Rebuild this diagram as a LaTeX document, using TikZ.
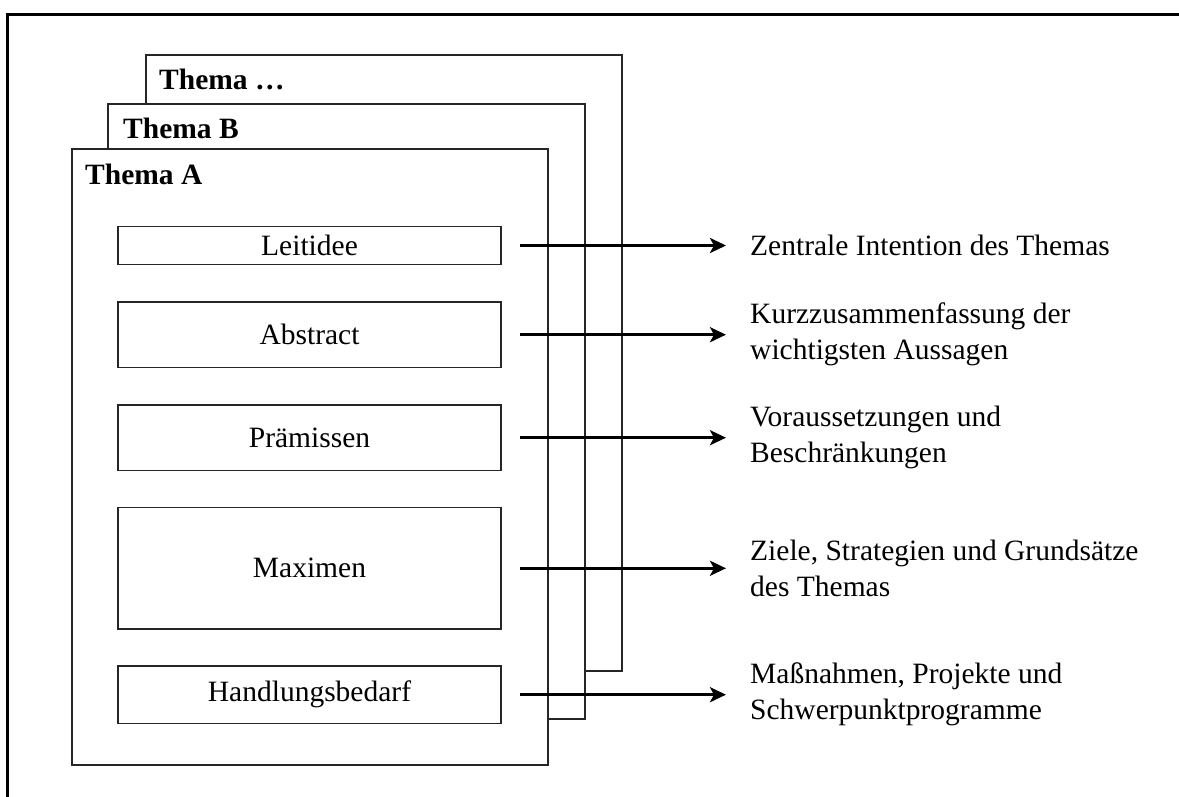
\documentclass[tikz,border=0pt]{standalone}
\usepackage{fontspec}
\setmainfont{Liberation Serif}
\usetikzlibrary{arrows.meta}
\begin{document}
\begin{tikzpicture}[x=1pt,y=-1pt,
  themebox/.style={draw=black!85, line width=1.3pt, fill=white, minimum width=476pt, minimum height=616pt, inner sep=0pt},
  itembox/.style={draw=black!85, line width=1.3pt, fill=white, minimum width=383pt, inner sep=0pt, font=\fontsize{29.5}{36}\selectfont},
  title/.style={anchor=base west, inner sep=0pt, font=\fontsize{29.5}{36}\selectfont\bfseries},
  desc/.style={anchor=west, inner sep=0pt, align=left, font=\fontsize{29.5}{36}\selectfont},
  arr/.style={line width=3.2pt, -{Stealth[length=16pt,width=15pt,inset=4pt]}, shorten >=24pt}
]
\useasboundingbox (0,0) rectangle (1179,796);
% outer frame (top and left edge)
\coordinate (fTL) at (7,14);
\coordinate (fTR) at (1185,14);
\coordinate (fBL) at (7,800);
\draw[line width=3pt] (fBL) -- (fTL) -- (fTR);

% stacked theme sheets
\node[themebox] (tN) at (384,363) {};
\node[title] (tNt) at (159,89) {Thema …};
\node[themebox, minimum width=477pt, minimum height=615pt] (tB) at (346.5,411.5) {};
\node[title] (tBt) at (123,138) {Thema B};
\node[themebox] (tA) at (310,457) {};
\node[title] (tAt) at (85,184) {Thema A};

% inner boxes
\node[itembox, minimum height=37.6pt] (lei) at (309.5,245.5) {Leitidee};
\node[itembox, minimum height=65.3pt] (abs) at (309.5,334.7) {Abstract};
\node[itembox, minimum height=65.3pt] (pra) at (309.5,437.7) {Prämissen};
\node[itembox, minimum height=121.3pt] (max) at (309.5,568.3) {Maximen};
\node[itembox, minimum height=57.3pt] (han) at (309.5,694.7) {Handlungsbedarf};

% descriptions
\node[desc] (d1) at (750,245.5) {Zentrale Intention des Themas};
\node[desc] (d2) at (750,334.7) {Kurzzusammenfassung der\\wichtigsten Aussagen};
\node[desc] (d3) at (750,437.7) {Voraussetzungen und\\Beschränkungen};
\node[desc] (d4) at (750,568.3) {Ziele, Strategien und Grundsätze\\des Themas};
\node[desc] (d5) at (750,694.7) {Maßnahmen, Projekte und\\Schwerpunktprogramme};

% arrows
\draw[arr] ([xshift=18pt]lei.east) -- (lei.east -| d1.west);
\draw[arr] ([xshift=18pt]abs.east) -- (abs.east -| d2.west);
\draw[arr] ([xshift=18pt]pra.east) -- (pra.east -| d3.west);
\draw[arr] ([xshift=18pt]max.east) -- (max.east -| d4.west);
\draw[arr] ([xshift=18pt]han.east) -- (han.east -| d5.west);
\end{tikzpicture}
\end{document}
